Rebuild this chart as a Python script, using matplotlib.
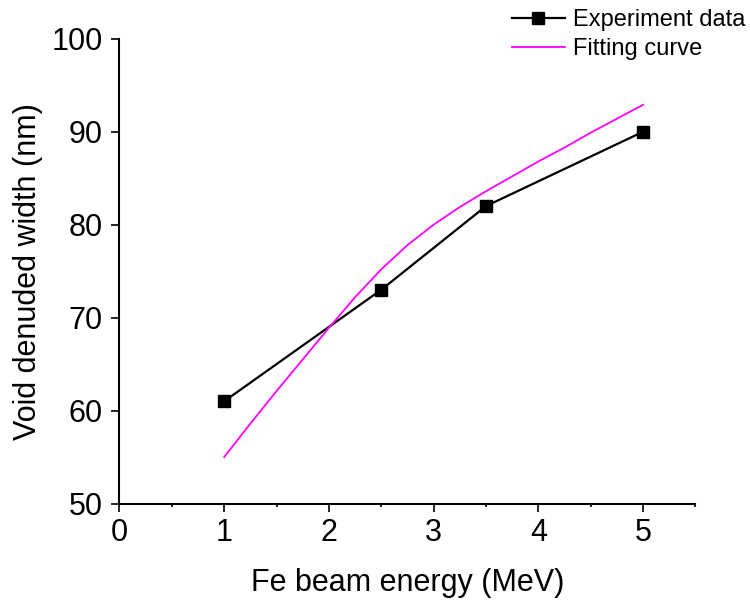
import matplotlib.pyplot as plt
from matplotlib.ticker import MultipleLocator

plt.rcParams['font.family'] = ['Liberation Sans', 'DejaVu Sans']

# 实验数据
energy = [1, 2.5, 3.5, 5]
width = [61, 73, 82, 90]

# 拟合曲线
fit_x = [1, 1.25, 1.5, 1.75, 2, 2.25, 2.5, 2.75, 3, 3.25, 3.5, 3.75, 4, 4.25, 4.5, 4.75, 5]
fit_y = [55.0, 58.6, 62.1, 65.5, 68.9, 72.2, 75.2, 77.8, 80.0, 81.9, 83.6, 85.2, 86.8,
         88.3, 89.9, 91.4, 92.9]

fig = plt.figure(figsize=(7.5, 6.02), dpi=100)
ax = fig.add_axes([0.1593, 0.1636, 0.768, 0.772])

ax.plot(energy, width, color='black', lw=1.6, marker='s', markersize=8,
        label='Experiment data')
ax.plot(fit_x, fit_y, color='#ff00ff', lw=1.3, label='Fitting curve')

ax.set_xlim(0, 5.5)
ax.set_ylim(50, 100)
ax.xaxis.set_major_locator(MultipleLocator(1))
ax.xaxis.set_minor_locator(MultipleLocator(0.5))
ax.yaxis.set_major_locator(MultipleLocator(10))

for s in ['top', 'right']:
    ax.spines[s].set_visible(False)
for s in ['left', 'bottom']:
    ax.spines[s].set_linewidth(1.5)

ax.tick_params(which='major', direction='out', length=5.5, width=1.2, labelsize=22)
ax.tick_params(axis='y', which='major', pad=6.5)
ax.tick_params(axis='x', which='major', pad=5)
ax.tick_params(which='minor', direction='out', length=2.5, width=1.2)

ax.set_xlabel('Fe beam energy (MeV)', fontsize=22, labelpad=14)
ax.set_ylabel('Void denuded width (nm)', fontsize=22, labelpad=6)

fig.legend(loc='upper left', bbox_to_anchor=(0.682, 0.985), frameon=False,
           fontsize=17, handlelength=2.25, handletextpad=0.34, labelspacing=0.3,
           borderpad=0, borderaxespad=0)

fig.savefig('out.png', dpi=100)
